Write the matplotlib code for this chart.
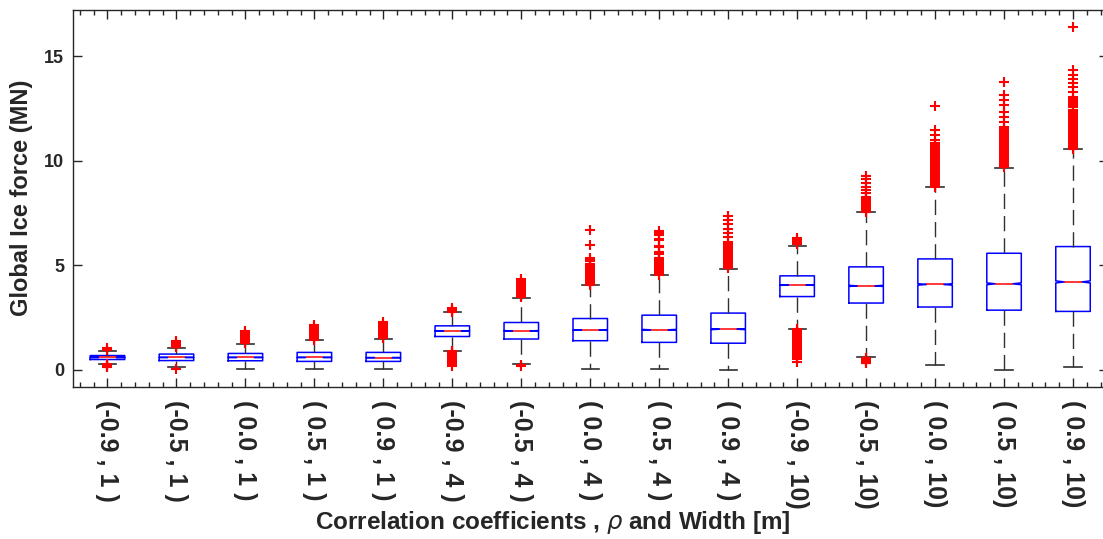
import numpy as np
import matplotlib
matplotlib.use("Agg")
import matplotlib.pyplot as plt
from matplotlib.ticker import MultipleLocator, FixedLocator

plt.rcParams['font.family'] = ['Liberation Sans', 'DejaVu Sans']
plt.rcParams['mathtext.fontset'] = 'dejavusans'

# Category labels: (correlation coefficient rho , ice-structure width [m])
tick_labels = [
    "(-0.9 , 1 )", "(-0.5 , 1 )", "( 0.0 , 1 )", "( 0.5 , 1 )", "( 0.9 , 1 )",
    "(-0.9 , 4 )", "(-0.5 , 4 )", "( 0.0 , 4 )", "( 0.5 , 4 )", "( 0.9 , 4 )",
    "(-0.9 , 10)", "(-0.5 , 10)", "( 0.0 , 10)", "( 0.5 , 10)", "( 0.9 , 10)",
]

# Box statistics of the global ice force (MN)
q1 = [0.49, 0.44, 0.43, 0.40, 0.40, 1.59, 1.47, 1.39, 1.31, 1.27, 3.50, 3.19, 3.00, 2.85, 2.79]
median = [0.59, 0.59, 0.59, 0.59, 0.58, 1.86, 1.86, 1.90, 1.91, 1.94, 4.05, 4.01, 4.08, 4.11, 4.20]
q3 = [0.68, 0.75, 0.78, 0.83, 0.83, 2.10, 2.26, 2.45, 2.61, 2.71, 4.49, 4.92, 5.30, 5.57, 5.89]
whisker_low = [0.29, 0.12, 0.03, 0.02, 0.02, 0.92, 0.27, 0.06, 0.05, 0.00, 1.97, 0.61, 0.21, 0.00, 0.11]
whisker_high = [0.91, 1.05, 1.23, 1.40, 1.48, 2.74, 3.45, 4.03, 4.52, 4.84, 5.94, 7.52, 8.74, 9.67, 10.54]
n_samples = 10000

# Outlying simulations for every case
outliers = [
    [0.95, 1.02, 0.27, 0.23, 0.19, 0.15, 0.11],
    [1.07, 1.12, 1.17, 1.22, 1.27, 1.31, 1.36, 0.05],
    [1.26, 1.33, 1.40, 1.47, 1.54, 1.61, 1.68, 1.75, 1.80, 1.86],
    [1.43, 1.50, 1.57, 1.64, 1.71, 1.78, 1.85, 1.92, 1.97, 2.04, 2.10, 2.16],
    [1.50, 1.57, 1.64, 1.71, 1.78, 1.85, 1.92, 1.99, 2.08, 2.16, 2.23, 2.30],
    [2.78, 2.84, 2.90, 2.97,
     0.90, 0.83, 0.76, 0.69, 0.62, 0.55, 0.48, 0.41, 0.35, 0.28, 0.20],
    [3.48, 3.55, 3.62, 3.69, 3.76, 3.83, 3.90, 3.97, 4.04, 4.11, 4.18, 4.23, 4.33,
     0.22, 0.18],
    [4.05, 4.13, 4.21, 4.29, 4.37, 4.45, 4.53, 4.61, 4.69, 4.77, 4.85, 4.93, 5.01, 5.06,
     5.20, 5.28, 5.36, 5.97, 6.69],
    [4.55, 4.63, 4.71, 4.79, 4.87, 4.95, 5.03, 5.11, 5.19, 5.27, 5.34,
     5.52, 5.58, 5.64, 5.88, 5.94, 6.20, 6.26, 6.45, 6.52, 6.62],
    [4.86, 4.94, 5.02, 5.10, 5.18, 5.26, 5.34, 5.42, 5.50, 5.58, 5.66, 5.74, 5.82, 5.90,
     5.98, 6.06, 6.10, 6.34, 6.53, 6.75, 6.98, 7.17, 7.36],
    [6.00, 6.08, 6.16, 6.24, 6.30,
     1.95, 1.87, 1.79, 1.71, 1.63, 1.55, 1.47, 1.39, 1.31, 1.23, 1.15, 1.07, 0.99, 0.91,
     0.83, 0.75, 0.67, 0.59, 0.52, 0.36],
    [7.54, 7.62, 7.70, 7.78, 7.86, 7.94, 8.02, 8.10, 8.18, 8.26,
     8.44, 8.60, 8.76, 8.95, 9.11, 9.27,
     0.55, 0.48, 0.41, 0.34, 0.30],
    [8.76, 8.84, 8.92, 9.00, 9.08, 9.16, 9.24, 9.32, 9.40, 9.48, 9.56, 9.64, 9.72, 9.80,
     9.88, 9.96, 10.04, 10.12, 10.20, 10.28, 10.36, 10.44, 10.52, 10.60, 10.68, 10.76, 10.83,
     10.99, 11.23, 11.47, 12.60],
    [9.69, 9.77, 9.85, 9.93, 10.01, 10.09, 10.17, 10.25, 10.33, 10.41, 10.49, 10.57, 10.65,
     10.73, 10.81, 10.89, 10.97, 11.05, 11.13, 11.21, 11.29, 11.37, 11.45, 11.53, 11.63,
     11.86, 12.10, 12.34, 12.66, 12.90, 13.14, 13.78],
    [10.56, 10.64, 10.72, 10.80, 10.88, 10.96, 11.04, 11.12, 11.20, 11.28, 11.36, 11.44,
     11.52, 11.60, 11.68, 11.76, 11.84, 11.92, 12.00, 12.08, 12.16, 12.24, 12.32, 12.42,
     12.58, 12.66, 12.74, 12.82, 12.90, 12.96,
     13.06, 13.30, 13.51, 13.70, 13.89, 14.09, 14.33, 16.40],
]

stats = []
for i in range(len(tick_labels)):
    iqr = q3[i] - q1[i]
    half_notch = 1.57 * iqr / np.sqrt(n_samples)
    stats.append(dict(
        label=tick_labels[i], q1=q1[i], med=median[i], q3=q3[i],
        whislo=whisker_low[i], whishi=whisker_high[i], fliers=outliers[i],
        cilo=median[i] - half_notch, cihi=median[i] + half_notch,
    ))

dark = "#262626"
fig = plt.figure(figsize=(11.03, 5.39), dpi=100)
ax = fig.add_axes([73 / 1103, 1 - 386.5 / 539, (1107.5 - 73) / 1103, (386.5 - 10) / 539])

ax.bxp(
    stats, positions=np.arange(1, len(stats) + 1), widths=0.5, shownotches=True,
    boxprops=dict(color="#0000ff", linewidth=1.1),
    medianprops=dict(color="#ff0000", linewidth=1.1),
    whiskerprops=dict(color="#303030", linewidth=1.0, linestyle=(0, (11, 5))),
    capprops=dict(color="#303030", linewidth=1.2),
    flierprops=dict(marker="+", markersize=7, markeredgewidth=1.5,
                    markeredgecolor="#ff0000", markerfacecolor="none", linestyle="none"),
)

ax.set_xlim(0.5, 15.5)
ax.set_ylim(-0.8, 17.2)
ax.yaxis.set_major_locator(FixedLocator([0, 5, 10, 15]))
ax.xaxis.set_minor_locator(MultipleLocator(0.2))
ax.set_xticks(np.arange(1, len(stats) + 1))
ax.set_xticklabels(tick_labels, rotation=270, fontsize=18, fontweight="bold", color=dark)
for lbl in ax.get_yticklabels():
    lbl.set_fontweight("bold")
ax.tick_params(axis="both", which="both", direction="in", top=True, right=True,
               color=dark, width=1.0)
ax.tick_params(axis="both", which="major", length=6.5)
ax.tick_params(axis="x", which="minor", length=3.6)
ax.tick_params(axis="x", which="major", pad=10)
ax.tick_params(axis="y", which="major", pad=6.5, labelsize=13, labelcolor=dark)
for sp in ax.spines.values():
    sp.set_color(dark)
    sp.set_linewidth(1.0)

ax.set_ylabel("Global Ice force (MN)", fontsize=17, fontweight="bold", color=dark,
              va="center")
ax.yaxis.set_label_coords((22 - 73) / 1034.5, 0.5)
ax.set_xlabel(r"Correlation coefficients , $\rho$ and Width [m]", fontsize=17.5,
              fontweight="bold", color=dark, va="center")
ax.xaxis.set_label_coords((553 - 73) / 1034.5, (386.5 - 522) / 376.5)

fig.savefig("out.png", dpi=100)
